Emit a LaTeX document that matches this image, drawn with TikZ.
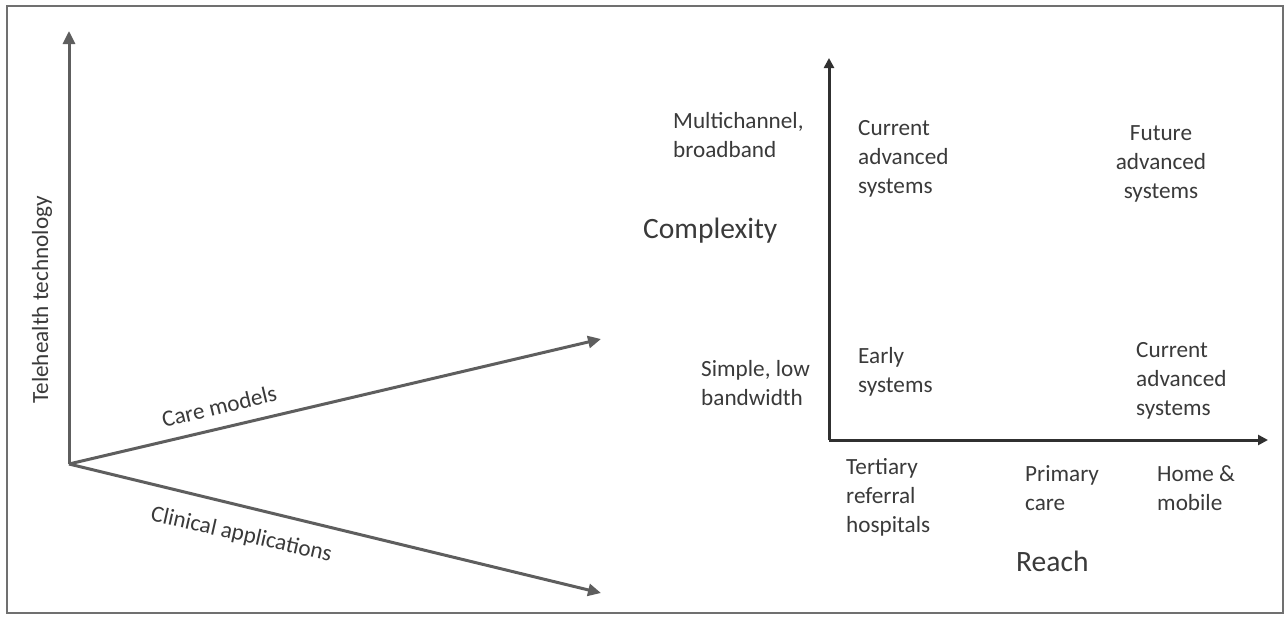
\documentclass[tikz,border=0pt]{standalone}
\usepackage{fontspec}
\setmainfont{Carlito}
\usetikzlibrary{arrows.meta}
\definecolor{txt}{HTML}{3A3A3A}
\definecolor{leftax}{HTML}{5E5E5E}
\definecolor{rightax}{HTML}{303030}
\definecolor{frame}{HTML}{707070}
\tikzset{
  lbl/.style={inner sep=0pt, text=txt, font=\fontsize{23.2}{29}\selectfont, align=left},
  big/.style={inner sep=0pt, text=txt, font=\fontsize{29.5}{35}\selectfont},
  leftarrow/.style={draw=leftax, line width=3pt, -{Triangle[length=13pt,width=12pt]}},
  rightarrow/.style={draw=rightax, line width=3pt, -{Triangle[length=10pt,width=10pt]}},
}
\begin{document}
\begin{tikzpicture}[x=1pt,y=-1pt]
\useasboundingbox (0,0) rectangle (1285,616);
\fill[white] (0,0) rectangle (1285,616);
\draw[frame, line width=2pt] (7,6) rectangle (1283,613);

% left diagram
\coordinate (o) at (69,464);
\coordinate (tech) at (69,31);
\coordinate (care) at (601,339);
\coordinate (clin) at (601,593);
\draw[leftarrow] (o) -- (tech);
\draw[leftarrow] (o) -- (care);
\draw[leftarrow] (o) -- (clin);
\node[lbl, rotate=90, anchor=base] (tt) at (48,300) {Telehealth technology};
\node[lbl, rotate=13.5, anchor=base] (cm) at (221,414) {Care models};
\node[lbl, rotate=-12.8, anchor=base] (ca) at (240,541) {Clinical applications};

% right diagram
\coordinate (r0) at (829,440);
\coordinate (rup) at (829,58);
\coordinate (rright) at (1268,440);
\draw[rightarrow] (r0) -- (rup);
\draw[rightarrow] (r0) -- (rright);

\node[lbl, anchor=base west] (mc) at (673,157) {Multichannel,\\broadband};
\node[big, anchor=base west] (cx) at (643,238) {Complexity};
\node[lbl, anchor=base west] (sl) at (701,405) {Simple, low\\bandwidth};
\node[lbl, anchor=base west] (cas1) at (858,193) {Current\\advanced\\systems};
\node[lbl, align=center, anchor=base] (fas) at (1161,198) {Future\\advanced\\systems};
\node[lbl, anchor=base west] (es) at (858,392) {Early\\systems};
\node[lbl, anchor=base west] (cas2) at (1136,415) {Current\\advanced\\systems};
\node[lbl, anchor=base west] (trh) at (846,532) {Tertiary\\referral\\hospitals};
\node[lbl, anchor=base west] (pc) at (1025,510) {Primary\\care};
\node[lbl, anchor=base west] (hm) at (1157,510) {Home \&\\mobile};
\node[big, anchor=base west] (reach) at (1016,571) {Reach};
\end{tikzpicture}
\end{document}
